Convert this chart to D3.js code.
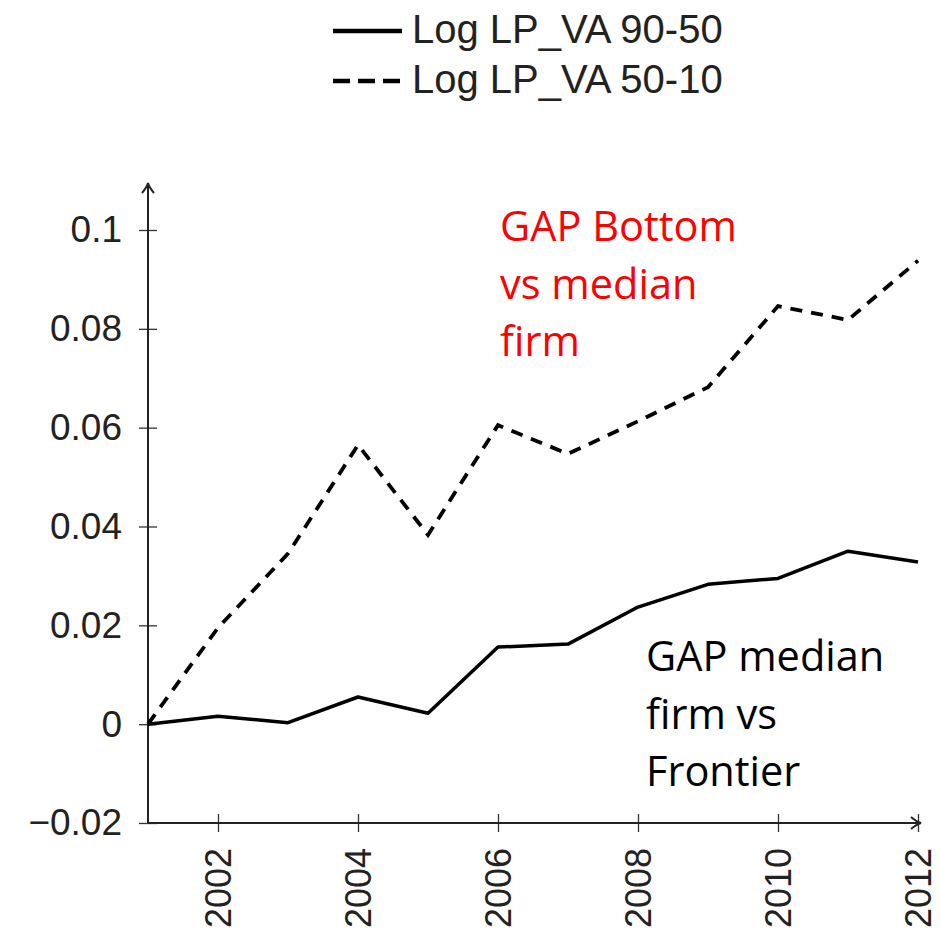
<!DOCTYPE html>
<html>
<head>
<meta charset="utf-8">
<script src="https://cdn.jsdelivr.net/npm/d3@7"></script>
<style>
  body { margin: 0; background: #fff; }
  svg { display: block; }
  .tick-label { font-family: "Liberation Sans", Arial, sans-serif; fill: #222; }
  .note { font-family: "Open Sans", Lato, sans-serif; }
</style>
</head>
<body>
<svg id="chart" width="941" height="936"></svg>
<script>
// data
const years = [2001, 2002, 2003, 2004, 2005, 2006, 2007, 2008, 2009, 2010, 2011, 2012];
const lp9050 = [0, 0.0016, 0.0003, 0.0055, 0.0022, 0.0156, 0.0162, 0.0237, 0.0283, 0.0295, 0.035, 0.0328];
const lp5010 = [0, 0.0195, 0.0345, 0.0565, 0.0383, 0.0605, 0.0547, 0.0613, 0.0682, 0.0846, 0.0818, 0.0938];
const yTicks = [-0.02, 0, 0.02, 0.04, 0.06, 0.08, 0.1];
const xTicks = [2002, 2004, 2006, 2008, 2010, 2012];
const seriesNames = ["Log LP_VA 90-50", "Log LP_VA 50-10"];
const notes = [
  { lines: ["GAP Bottom", "vs median", "firm"], color: "#ff0000" },
  { lines: ["GAP median", "firm vs", "Frontier"], color: "#000000" }
];

const svg = d3.select('#chart');

const xScale = d3.scaleLinear().domain([2001, 2012]).range([148, 918]);
const yScale = d3.scaleLinear().domain([-0.02, 0.1]).range([823, 230]);

const defs = svg.append('defs');
defs.append('marker')
  .attr('id', 'arrow')
  .attr('viewBox', '-12 -8 14 16')
  .attr('refX', 0).attr('refY', 0)
  .attr('markerWidth', 14).attr('markerHeight', 16)
  .attr('markerUnits', 'userSpaceOnUse')
  .attr('orient', 'auto')
  .append('path')
  .attr('d', 'M-10,-6 Q-4,-1 0,0 Q-4,1 -10,6')
  .attr('fill', 'none')
  .attr('stroke', '#222')
  .attr('stroke-width', 2);

// y axis
const yAxis = d3.axisLeft(yScale)
  .tickValues(yTicks)
  .tickSize(9)
  .tickFormat(d => d === 0 ? '0' : (d < 0 ? '\u2212' : '') + (+Math.abs(d).toFixed(2)));

const yAxisG = svg.append('g')
  .attr('class', 'yAxis')
  .attr('transform', `translate(${xScale(2001)},0)`)
  .call(yAxis);
yAxisG.select('.domain').remove();
yAxisG.selectAll('.tick line')
  .attr('x1', -9).attr('x2', 9)
  .attr('stroke', '#333').attr('stroke-width', 1.3);
yAxisG.selectAll('.tick text')
  .attr('class', 'tick-label')
  .attr('font-size', 37)
  .attr('x', -26);

// x axis
const xAxis = d3.axisBottom(xScale)
  .tickValues(xTicks)
  .tickSize(9)
  .tickFormat(d3.format('d'));

const xAxisG = svg.append('g')
  .attr('class', 'xAxis')
  .attr('transform', `translate(0,${yScale(-0.02)})`)
  .call(xAxis);
xAxisG.select('.domain').remove();
xAxisG.selectAll('.tick line')
  .attr('y1', -9).attr('y2', 9)
  .attr('stroke', '#333').attr('stroke-width', 1.3);
xAxisG.selectAll('.tick text')
  .attr('class', 'tick-label')
  .attr('font-size', 36)
  .attr('text-anchor', 'end')
  .attr('transform', 'translate(0,25) rotate(-90)')
  .attr('x', 0).attr('y', 0)
  .attr('dy', '0.35em');

// axis lines with arrows
svg.append('line')
  .attr('x1', xScale(2001)).attr('x2', xScale(2001))
  .attr('y1', yScale(-0.02)).attr('y2', 183)
  .attr('stroke', '#222').attr('stroke-width', 2)
  .attr('marker-end', 'url(#arrow)');
svg.append('line')
  .attr('x1', xScale(2001)).attr('x2', 921)
  .attr('y1', yScale(-0.02)).attr('y2', yScale(-0.02))
  .attr('stroke', '#222').attr('stroke-width', 2)
  .attr('marker-end', 'url(#arrow)');

// lines
const lineGenerator = d3.line()
  .x((d, i) => xScale(years[i]))
  .y(d => yScale(d));

svg.append('path')
  .attr('class', 'line-path')
  .attr('d', lineGenerator(lp9050))
  .attr('fill', 'none')
  .attr('stroke', '#000')
  .attr('stroke-width', 3.5)
  .attr('stroke-linejoin', 'round');

svg.append('path')
  .attr('class', 'line-path')
  .attr('d', lineGenerator(lp5010))
  .attr('fill', 'none')
  .attr('stroke', '#000')
  .attr('stroke-width', 3.8)
  .attr('stroke-dasharray', '12,9');

// legend
const legend = svg.append('g').attr('class', 'legend');
seriesNames.forEach((name, i) => {
  const yy = 31 + i * 50;
  legend.append('line')
    .attr('x1', 333).attr('x2', 402)
    .attr('y1', yy).attr('y2', yy)
    .attr('stroke', '#000')
    .attr('stroke-width', 4.5)
    .attr('stroke-dasharray', i === 0 ? null : '17,8');
  legend.append('text')
    .attr('class', 'tick-label')
    .attr('x', 412)
    .attr('y', yy + 12)
    .attr('font-size', 40)
    .text(name);
});

// annotations
const notePos = [[500, 241], [646, 671]];
notes.forEach((n, k) => {
  const t = svg.append('text')
    .attr('class', 'note')
    .attr('fill', n.color)
    .attr('font-size', 41.5);
  n.lines.forEach((ln, j) => {
    t.append('tspan')
      .attr('x', notePos[k][0])
      .attr('y', notePos[k][1] + j * 57.5)
      .text(ln);
  });
});
</script>
</body>
</html>
